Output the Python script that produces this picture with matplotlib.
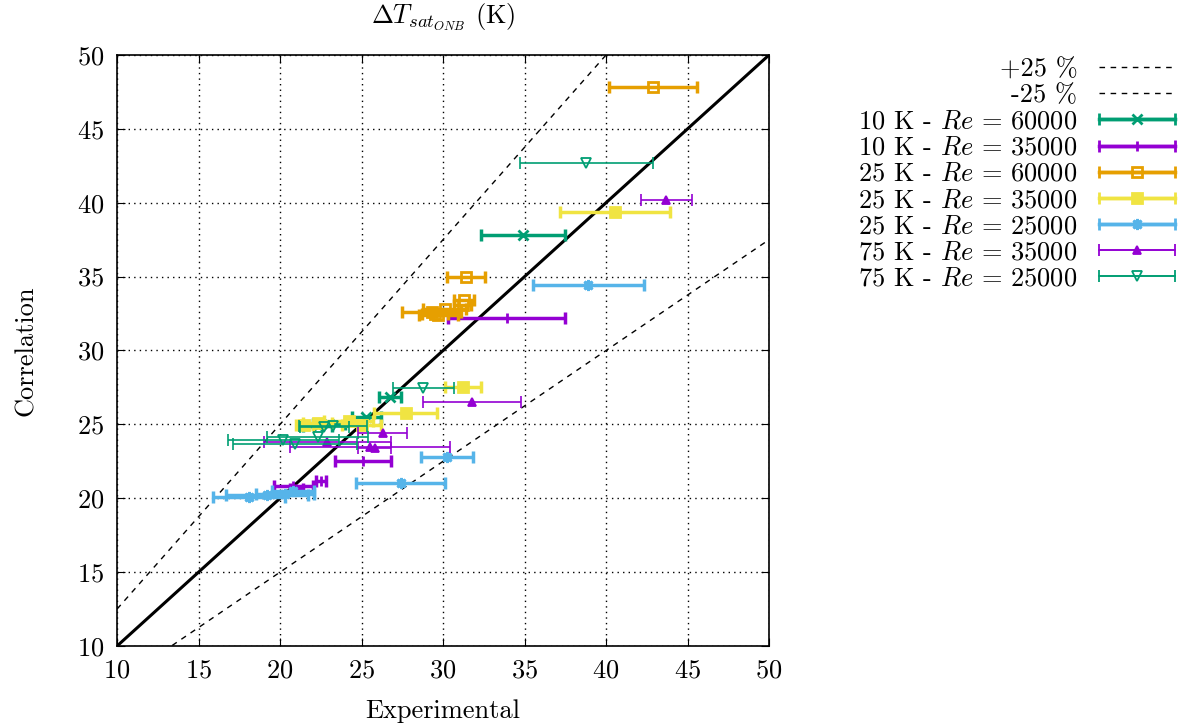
import numpy as np
import matplotlib
matplotlib.use("Agg")
import matplotlib.pyplot as plt
from matplotlib.container import ErrorbarContainer
from matplotlib.legend_handler import HandlerErrorbar

plt.rcParams['font.family'] = ['cmr10', 'DejaVu Serif']
plt.rcParams['mathtext.fontset'] = 'cm'
plt.rcParams['axes.formatter.use_mathtext'] = True
plt.rcParams['axes.unicode_minus'] = False

# ---- data ----
labels = [r"10 K - $Re$ = 60000", r"10 K - $Re$ = 35000", r"25 K - $Re$ = 60000",
          r"25 K - $Re$ = 35000", r"25 K - $Re$ = 25000", r"75 K - $Re$ = 35000",
          r"75 K - $Re$ = 25000"]

s1_x = [34.9, 26.75, 25.3, 23.0, 22.3]
s1_y = [37.8, 26.85, 25.5, 25.0, 24.9]
s1_e = [2.6, 0.7, 0.9, 1.0, 0.9]

s2_x = [33.9, 25.1, 22.5, 20.8, 21.0]
s2_y = [32.2, 22.5, 21.2, 20.8, 20.6]
s2_e = [3.6, 1.7, 0.3, 1.2, 0.4]

s3_x = [42.9, 31.4, 31.3, 31.2, 30.1, 29.3, 29.7, 29.5]
s3_y = [47.8, 35.0, 33.4, 33.1, 32.8, 32.6, 32.4, 32.5]
s3_e = [2.7, 1.15, 0.6, 0.5, 1.3, 1.8, 1.2, 0.8]

s4_x = [40.55, 31.2, 27.7, 24.2, 25.0, 21.5, 22.3]
s4_y = [39.4, 27.5, 25.8, 25.2, 24.95, 24.95, 25.1]
s4_e = [3.35, 1.1, 1.95, 1.5, 1.2, 0.5, 0.9]

s5_x = [38.9, 30.25, 27.4, 18.1, 19.2, 20.3, 20.8]
s5_y = [34.4, 22.8, 21.0, 20.1, 20.2, 20.3, 20.5]
s5_e = [3.4, 1.6, 2.75, 2.2, 2.5, 1.8, 1.3]

s6_x = [43.7, 31.8, 26.3, 22.9, 25.5, 25.8]
s6_y = [40.2, 26.5, 24.4, 23.8, 23.5, 23.4]
s6_e = [1.55, 3.0, 1.5, 3.9, 4.9, 1.0]

s7_x = [38.8, 28.8, 23.25, 22.7, 22.3, 20.2, 20.9]
s7_y = [42.7, 27.45, 24.9, 24.8, 24.15, 23.95, 23.7]
s7_e = [4.05, 1.85, 2.1, 1.5, 3.1, 3.4, 3.8]

xticks = [10, 15, 20, 25, 30, 35, 40, 45, 50]
yticks = [10, 15, 20, 25, 30, 35, 40, 45, 50]

green = '#009e73'
purple = '#9400d3'
orange = '#e69f00'
yellow = '#f0e442'
blue = '#56b4e9'

FS = 19
HL = 2.9

fig = plt.figure(figsize=(11.87, 7.28), dpi=100)
ax = fig.add_axes([0.0986, 0.1126, 0.5493, 0.8119])

xl = np.array([10.0, 50.0])
l1, = ax.plot(xl, 1.25 * xl, color='black', ls=(0, (4, 4)), lw=1.0, label='+25 %')
l2, = ax.plot(xl, 0.75 * xl, color='black', ls=(0, (4, 4)), lw=1.0, label='-25 %')
ax.plot(xl, xl, color='black', lw=2.2)

series = [
    (s1_x, s1_y, s1_e, green, 'x', True, 2.5, 7),
    (s2_x, s2_y, s2_e, purple, '+', True, 2.5, 7),
    (s3_x, s3_y, s3_e, orange, 's', False, 2.5, 7),
    (s4_x, s4_y, s4_e, yellow, 's', True, 2.5, 7),
    (s5_x, s5_y, s5_e, blue, (8, 2, 0), True, 2.5, 8),
    (s6_x, s6_y, s6_e, purple, '^', True, 1.2, 6),
    (s7_x, s7_y, s7_e, green, 'v', False, 1.2, 7),
]
handles = [l1, l2]
for (sx, sy, se, c, m, filled, lw, ms), lab in zip(series, labels):
    ax.errorbar(sx, sy, xerr=se, fmt='none', ecolor=c, elinewidth=lw,
                capsize=4, capthick=lw)
    ax.plot(sx, sy, ls='none', marker=m, ms=ms, mec=c,
            mfc=(c if filled else 'none'), mew=2 if lw > 2 else 1.3)
    hl = ax.errorbar([np.nan], [np.nan], xerr=[1], color=c, marker=m, ms=ms,
                     mec=c, mfc=(c if filled else 'none'),
                     mew=2 if lw > 2 else 1.3, lw=lw, elinewidth=lw,
                     capsize=4, capthick=lw, label=lab)
    handles.append(hl)

ax.set_xlim(10, 50)
ax.set_ylim(10, 50)
ax.set_xticks(xticks)
ax.set_yticks(yticks)
ax.grid(True, color='black', ls=(0, (1, 3)), lw=1.0)
ax.tick_params(direction='in', top=True, right=True, length=6, labelsize=FS, pad=9)
for sp in ax.spines.values():
    sp.set_linewidth(1.2)

ax.set_xlabel('Experimental', fontsize=FS, labelpad=12)
ax.set_ylabel('Correlation', fontsize=FS, labelpad=28)
ax.text(0.5, 1.064, r'$\Delta T_{sat_{ONB}}$ (K)', transform=ax.transAxes,
        ha='center', va='center', fontsize=FS)

fig.legend(handles=handles, labels=[h.get_label() for h in handles],
           loc='upper right', bbox_to_anchor=(1.0, 0.937), frameon=False,
           markerfirst=False, fontsize=FS, handlelength=HL,
           labelspacing=0.09, handletextpad=0.8, numpoints=1, borderaxespad=0.05,
           handler_map={ErrorbarContainer: HandlerErrorbar(xerr_size=HL / 2 - 0.02)})

fig.savefig('out.png', dpi=100)
